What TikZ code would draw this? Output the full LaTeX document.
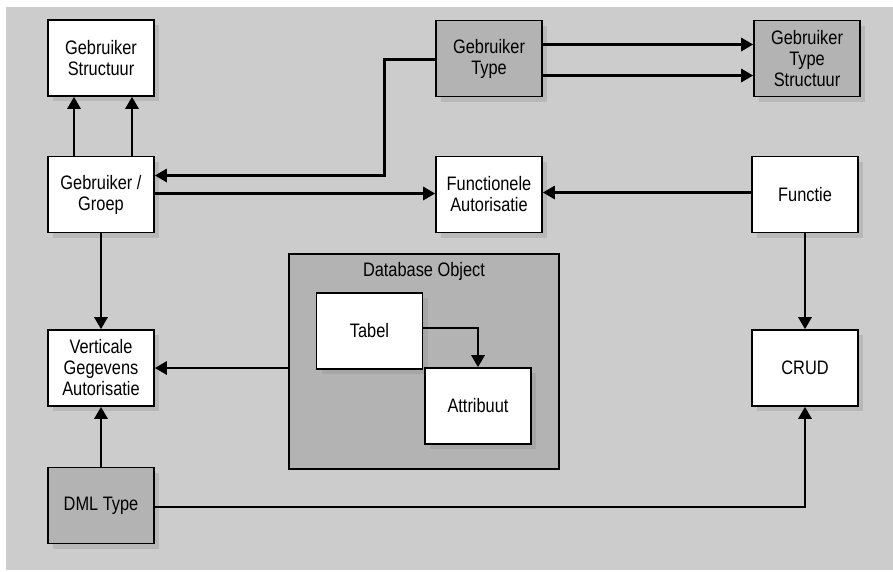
\documentclass[tikz,border=0pt]{standalone}
\usepackage{fontspec}
\setmainfont[FakeStretch=0.84]{Liberation Sans}
\usepackage{tikz}
\usetikzlibrary{arrows.meta,shadows}
\definecolor{bggray}{RGB}{204,204,204}
\definecolor{boxgray}{RGB}{179,179,179}

\begin{document}
\begin{tikzpicture}[x=1pt,y=-1pt,
    ent/.style={draw=black,line width=1.6pt,fill=white,minimum width=106pt,minimum height=76pt,
      align=center,inner sep=2pt,font=\fontsize{19.5}{21}\selectfont,
      drop shadow={shadow xshift=5pt,shadow yshift=-5pt,opacity=0.25}},
    grayent/.style={ent,fill=boxgray},
    arr/.style={line width=2.8pt,-{Triangle[length=12pt,width=13pt]}},
    ln/.style={line width=2.8pt}]
    % background
    \useasboundingbox (0,0) rectangle (893,571);
    \fill[bggray] (6,7) rectangle (893,570);
    % database object group
    \node[draw=black,line width=2.8pt,fill=boxgray,minimum width=270pt,minimum height=215pt] (dbobj) at (424,361.5) {};
    \node[font=\fontsize{19.5}{21}\selectfont] (dblabel) at (424,271) {Database Object};
    \node[ent] (tabel) at (369.5,331) {Tabel};
    \node[ent] (attr) at (478,406) {Attribuut};
    % gebruikers
    \node[ent] (gstruct) at (101,58) {Gebruiker\\Structuur};
    \node[ent] (groep) at (101,194.5) {Gebruiker /\\Groep};
    \node[grayent] (gtype) at (489,58.5) {Gebruiker\\Type};
    \node[grayent] (gtstruct) at (807,58.5) {Gebruiker\\Type\\Structuur};
    % autorisaties
    \node[ent] (funcaut) at (489,194.5) {Functionele\\Autorisatie};
    \node[ent] (functie) at (805,194.5) {Functie};
    \node[ent] (vert) at (101,368) {Verticale\\Gegevens\\Autorisatie};
    \node[grayent] (dml) at (101,505.5) {DML Type};
    \node[ent] (crud) at (805,368) {CRUD};
    % connectors
    \draw[arr] ([xshift=-27pt]groep.north) -- ([xshift=-27pt]gstruct.south);
    \draw[arr] ([xshift=31pt]groep.north) -- ([xshift=31pt]gstruct.south);
    \draw[arr] ([yshift=-1pt]gtype.west) -- ++(-51,0) |- ([yshift=19pt]groep.east);
    \draw[arr] ([yshift=14pt]gtype.east) -- ([yshift=14pt]gtstruct.west);
    \draw[arr] ([yshift=-17pt]gtype.east) -- ([yshift=-17pt]gtstruct.west);
    \draw[arr] ([yshift=1pt]groep.east) -- ([yshift=1pt]funcaut.west);
    \draw[arr] ([yshift=2pt]functie.west) -- ([yshift=2pt]funcaut.east);
    \draw[arr] (functie.south) -- (crud.north);
    \draw[arr] (groep.south) -- (vert.north);
    \draw[arr] (dbobj.west |- vert.east) -- (vert.east);
    \draw[arr] (dml.north) -- (vert.south);
    \draw[arr] ([yshift=-1.5pt]dml.east) -| (crud.south);
    \draw[arr] ([yshift=3pt]tabel.east) -| (attr.north);
  \end{tikzpicture}
\end{document}
